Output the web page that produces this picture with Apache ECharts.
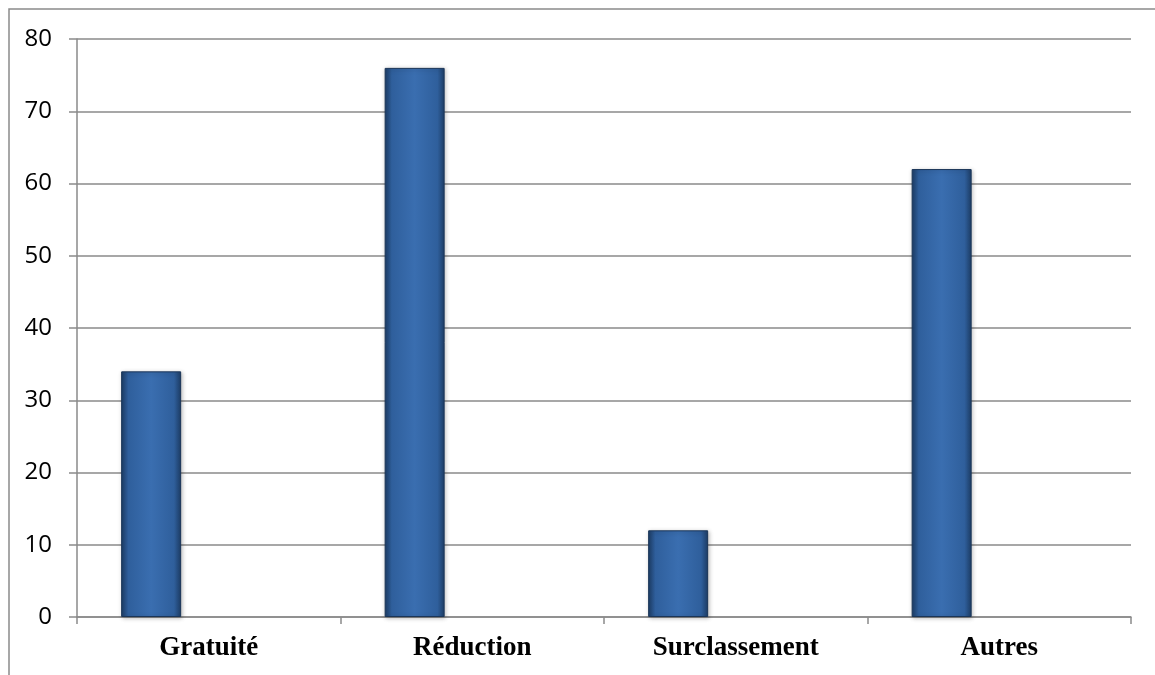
<!DOCTYPE html>
<html>
<head>
<meta charset="utf-8">
<script src="https://cdn.jsdelivr.net/npm/echarts@6/dist/echarts.min.js"></script>
<style>
  html, body { margin: 0; padding: 0; background: #fff; }
  #chart { width: 1155px; height: 675px; }
</style>
</head>
<body>
<div id="chart"></div>
<script>
// Categories and counts
const categories = ['Gratuité', 'Réduction', 'Surclassement', 'Autres'];
const counts = [34, 76, 12, 62];
const yTicks = [0, 10, 20, 30, 40, 50, 60, 70, 80];

const chart = echarts.init(document.getElementById('chart'), null, { renderer: 'canvas' });

// Bevelled blue fill for the columns
const barFill = new echarts.graphic.LinearGradient(0, 0, 1, 0, [
  { offset: 0, color: '#1d3d66' },
  { offset: 0.12, color: '#2f5f9c' },
  { offset: 0.5, color: '#3a6eb0' },
  { offset: 0.88, color: '#2f5f9c' },
  { offset: 1, color: '#1d3d66' }
]);

chart.setOption({
  animation: false,
  backgroundColor: '#ffffff',
  graphic: [{
    type: 'rect',
    shape: { x: 9, y: 9, width: 1300, height: 800 },
    style: { fill: 'none', stroke: '#8a8a8a', lineWidth: 1.5 },
    silent: true
  }],
  grid: { left: 77, right: 24, top: 39, bottom: 58, containLabel: false },
  xAxis: {
    type: 'category',
    data: categories,
    axisLine: { lineStyle: { color: '#8a8a8a', width: 1.5 } },
    axisTick: { show: true, length: 7, lineStyle: { color: '#8a8a8a', width: 1.5 } },
    axisLabel: {
      margin: 18,
      color: '#000',
      fontFamily: '"Liberation Serif", "Times New Roman", serif',
      fontWeight: 'bold',
      fontSize: 27
    }
  },
  yAxis: {
    type: 'value',
    min: yTicks[0],
    max: yTicks[yTicks.length - 1],
    interval: 10,
    axisLine: { show: true, lineStyle: { color: '#8a8a8a', width: 1.5 } },
    axisTick: { show: true, length: 8, lineStyle: { color: '#8a8a8a', width: 1.5 } },
    splitLine: { show: true, lineStyle: { color: '#8a8a8a', width: 1.5 } },
    axisLabel: {
      margin: 25,
      color: '#000',
      fontFamily: '"Open Sans", "Noto Sans", sans-serif',
      fontSize: 24
    }
  },
  series: [
    {
      name: 'Nombre',
      type: 'bar',
      data: counts,
      barWidth: 60,
      barGap: '92%',
      itemStyle: {
        color: barFill,
        borderColor: '#1a3558',
        borderWidth: 1,
        shadowColor: 'rgba(0,0,0,0.25)',
        shadowBlur: 4,
        shadowOffsetX: 1,
        shadowOffsetY: 1
      }
    },
    {
      name: '',
      type: 'bar',
      data: [],
      barWidth: 60
    }
  ]
});
</script>
</body>
</html>
